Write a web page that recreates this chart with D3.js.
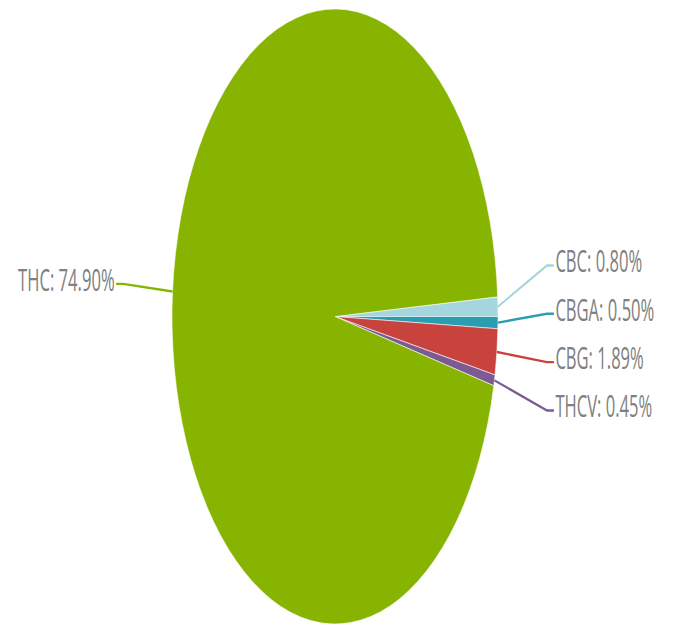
<!DOCTYPE html>
<html>
<head>
<meta charset="utf-8">
<script src="https://cdn.jsdelivr.net/npm/d3@7"></script>
<style>
  html, body { margin: 0; padding: 0; background: #fff; }
  svg { display: block; }
</style>
</head>
<body>
<svg id="chart" width="675" height="626"></svg>
<script>
const categories = ["CBC", "CBGA", "CBG", "THCV", "THC"];
const values = [0.80, 0.50, 1.89, 0.45, 74.90];
const labels = ["CBC: 0.80%", "CBGA: 0.50%", "CBG: 1.89%", "THCV: 0.45%", "THC: 74.90%"];
const colors = ["#a5d6dd", "#2a9db0", "#c8433e", "#7c5b93", "#86b400"];

const W = 675, H = 626;
const cx = 335, cy = 316.5;
const r = 163;            // horizontal radius
const stretch = 307.5 / r; // vertical stretch of the picture

const data = categories.map((c, i) => ({ name: c, value: values[i], label: labels[i], color: colors[i] }));
const total = d3.sum(values);
const firstAngle = 2 * Math.PI * values[0] / total;

const pie = d3.pie().value(d => d.value).sort(null)
  .startAngle(Math.PI / 2 - firstAngle)
  .endAngle(Math.PI / 2 - firstAngle + 2 * Math.PI);
const arcs = pie(data);
const arc = d3.arc().innerRadius(0).outerRadius(r);

const svg = d3.select("#chart");
const g = svg.append("g").attr("transform", `translate(${cx},${cy}) scale(1,${stretch})`);

g.selectAll("path.slice").data(arcs).enter().append("path")
  .attr("class", "slice")
  .attr("d", arc)
  .attr("fill", d => d.data.color)
  .attr("stroke", "#fff")
  .attr("stroke-width", 0.4)
  .attr("stroke-linejoin", "round");

// label layout
const items = arcs.map(a => {
  const mid = (a.startAngle + a.endAngle) / 2;
  const ex = Math.sin(mid) * r, ey = -Math.cos(mid) * r;
  return { a, mid, ex, ey, right: Math.sin(mid) > 0, ideal: -Math.cos(mid) * r };
});
const spacing = 25.6;
["right", "left"].forEach(side => {
  const grp = items.filter(it => (side === "right") === it.right).sort((p, q) => p.ideal - q.ideal);
  if (!grp.length) return;
  const mean = d3.mean(grp, it => it.ideal) - (side === "right" ? 1.3 : 4);
  grp.forEach((it, i) => { it.ly = mean + (i - (grp.length - 1) / 2) * spacing; });
});

const elbowR = r * 1.30;
items.forEach(it => {
  const sgn = it.right ? 1 : -1;
  const elbowX = sgn * elbowR;
  const endX = sgn * (elbowR + 7);
  g.append("path")
    .attr("d", `M${it.ex},${it.ey}L${elbowX},${it.ly}L${endX},${it.ly}`)
    .attr("fill", "none")
    .attr("stroke", it.a.data.color)
    .attr("stroke-width", 1.3);
  g.append("text")
    .attr("x", endX + sgn * 1.5)
    .attr("y", it.ly)
    .attr("dy", "0.22em")
    .attr("text-anchor", it.right ? "start" : "end")
    .attr("font-family", "'Open Sans', 'Noto Sans', sans-serif")
    .attr("font-size", 16.6)
    .attr("fill", "#808080")
    .text(it.a.data.label);
});
</script>
</body>
</html>
